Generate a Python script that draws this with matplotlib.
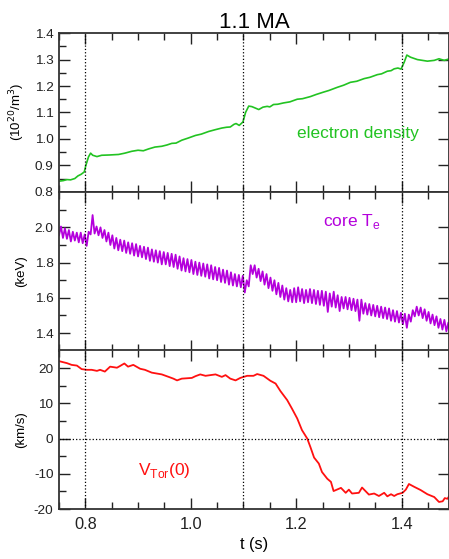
import numpy as np
import matplotlib
matplotlib.use('Agg')
import matplotlib.pyplot as plt
from matplotlib.ticker import MultipleLocator, FixedLocator, FormatStrFormatter

plt.rcParams['font.family'] = ['Liberation Sans', 'DejaVu Sans']
plt.rcParams['axes.unicode_minus'] = False

# electron density (1e20 m^-3)
ne_t = [0.750, 0.758, 0.765, 0.772, 0.780, 0.786, 0.792, 0.798, 0.801, 0.806,
        0.810, 0.814, 0.822, 0.831, 0.845, 0.863, 0.875, 0.888, 0.900, 0.910,
        0.920, 0.932, 0.945, 0.955, 0.964, 0.972, 0.983, 0.995, 1.009, 1.020,
        1.034, 1.047, 1.059, 1.068, 1.075, 1.082, 1.086, 1.092, 1.099, 1.104,
        1.110, 1.116, 1.122, 1.129, 1.137, 1.145, 1.150, 1.157, 1.165, 1.176,
        1.188, 1.202, 1.212, 1.227, 1.238, 1.252, 1.262, 1.278, 1.290, 1.303,
        1.315, 1.329, 1.340, 1.354, 1.362, 1.373, 1.380, 1.386, 1.393, 1.399,
        1.405, 1.410, 1.417, 1.430, 1.449, 1.462, 1.471, 1.481, 1.491]
ne = [0.840, 0.842, 0.846, 0.845, 0.850, 0.860, 0.866, 0.875, 0.900, 0.932,
      0.946, 0.938, 0.933, 0.938, 0.939, 0.941, 0.946, 0.953, 0.957, 0.955,
      0.962, 0.969, 0.972, 0.977, 0.983, 0.984, 0.995, 1.003, 1.013, 1.018,
      1.028, 1.035, 1.041, 1.044, 1.045, 1.055, 1.058, 1.051, 1.064, 1.100,
      1.124, 1.122, 1.117, 1.111, 1.120, 1.123, 1.121, 1.130, 1.131, 1.136,
      1.140, 1.150, 1.152, 1.160, 1.168, 1.177, 1.183, 1.195, 1.203, 1.214,
      1.218, 1.228, 1.233, 1.243, 1.246, 1.256, 1.258, 1.265, 1.268, 1.264,
      1.290, 1.317, 1.309, 1.300, 1.294, 1.297, 1.303, 1.297, 1.303]

# core Te (keV), sampled every 3.75 ms from 0.75 s, alternating trough / crest
te = [1.955, 2.005, 1.94, 1.995, 1.935, 1.985, 1.92, 1.975, 1.925, 1.97,
      1.915, 1.97, 1.91, 1.96, 1.895, 1.975, 1.96, 2.07, 1.965, 2.005,
      1.955, 2.00, 1.94, 1.985, 1.92, 1.97, 1.90, 1.955, 1.88, 1.94,
      1.87, 1.93, 1.865, 1.925, 1.855, 1.915, 1.85, 1.91, 1.84, 1.905,
      1.835, 1.895, 1.83, 1.89, 1.82, 1.885, 1.81, 1.875, 1.805, 1.87,
      1.80, 1.865, 1.79, 1.86, 1.79, 1.855, 1.78, 1.85, 1.775, 1.845,
      1.765, 1.835, 1.755, 1.825, 1.75, 1.82, 1.745, 1.815, 1.735, 1.805,
      1.73, 1.80, 1.725, 1.795, 1.72, 1.79, 1.71, 1.785, 1.705, 1.775,
      1.70, 1.77, 1.69, 1.76, 1.685, 1.755, 1.675, 1.745, 1.67, 1.735,
      1.665, 1.73, 1.66, 1.725, 1.63, 1.70, 1.665, 1.785, 1.735, 1.785,
      1.715, 1.765, 1.695, 1.75, 1.675, 1.735, 1.655, 1.715, 1.64, 1.70,
      1.62, 1.685, 1.605, 1.67, 1.59, 1.655, 1.58, 1.645, 1.575, 1.655,
      1.575, 1.66, 1.58, 1.65, 1.57, 1.645, 1.575, 1.65, 1.57, 1.645,
      1.565, 1.64, 1.56, 1.64, 1.555, 1.635, 1.52, 1.625, 1.55, 1.635,
      1.545, 1.615, 1.525, 1.605, 1.54, 1.605, 1.535, 1.60, 1.53, 1.595,
      1.525, 1.59, 1.47, 1.59, 1.51, 1.57, 1.505, 1.565, 1.50, 1.56,
      1.495, 1.555, 1.49, 1.55, 1.485, 1.545, 1.48, 1.54, 1.47, 1.53,
      1.465, 1.525, 1.46, 1.515, 1.45, 1.51, 1.43, 1.505, 1.465, 1.53,
      1.495, 1.55, 1.50, 1.545, 1.485, 1.535, 1.47, 1.52, 1.455, 1.505,
      1.445, 1.495, 1.43, 1.48, 1.42, 1.475, 1.41, 1.46, 1.405, 1.455]
te_t = 0.75 + 0.00375 * np.arange(len(te))

# central toroidal velocity (km/s)
v_t = [0.749, 0.765, 0.774, 0.784, 0.793, 0.803, 0.812, 0.822, 0.828, 0.837,
       0.847, 0.860, 0.866, 0.874, 0.881, 0.891, 0.904, 0.913, 0.926, 0.945,
       0.958, 0.967, 0.974, 0.983, 1.002, 1.009, 1.018, 1.028, 1.047, 1.059,
       1.066, 1.075, 1.085, 1.094, 1.107, 1.119, 1.126, 1.138, 1.151, 1.161,
       1.170, 1.183, 1.192, 1.202, 1.211, 1.221, 1.227, 1.234, 1.243, 1.249,
       1.259, 1.266, 1.271, 1.285, 1.294, 1.300, 1.306, 1.319, 1.325, 1.338,
       1.348, 1.357, 1.367, 1.373, 1.380, 1.386, 1.392, 1.402, 1.408, 1.414,
       1.424, 1.436, 1.449, 1.462, 1.471, 1.478, 1.482, 1.487, 1.491]
v = [22.0, 21.4, 20.9, 20.7, 19.7, 19.5, 19.5, 19.2, 19.5, 19.0,
     20.4, 20.1, 20.6, 21.3, 20.4, 20.9, 19.8, 19.5, 18.7, 18.2,
     17.5, 17.0, 16.5, 17.0, 17.2, 17.7, 18.2, 17.8, 18.2, 17.5,
     18.0, 17.0, 16.5, 17.2, 17.8, 17.8, 18.3, 17.8, 16.4, 15.6,
     13.5, 10.9, 8.5, 5.7, 2.4, 0.0, -2.4, -5.4, -7.1, -9.5,
     -11.4, -12.3, -14.9, -14.0, -15.4, -14.5, -15.6, -15.4, -13.9, -15.9,
     -15.6, -16.3, -15.4, -16.4, -15.8, -16.3, -15.8, -15.4, -14.5, -12.9,
     -13.7, -14.6, -15.8, -16.6, -18.0, -17.8, -16.9, -17.1, -16.2]

marks = [0.8, 1.1, 1.4]

green = '#22c322'
purple = '#b400dc'
red = '#ff1010'

fig = plt.figure(figsize=(4.49, 5.59), dpi=100)
W = 1 - 0.1314
H = 0.2837
ax1 = fig.add_axes([0.1314, 0.657, W, H])
ax2 = fig.add_axes([0.1314, 0.3726, W, H])
ax3 = fig.add_axes([0.1314, 0.0894, W, H])

ax1.plot(ne_t, ne, color=green, lw=1.2)
ax2.plot(te_t, te, color=purple, lw=1.3)
ax3.plot(v_t, v, color=red, lw=1.3)
ax3.axhline(0, color='k', ls=':', lw=0.9)

for ax in (ax1, ax2, ax3):
    ax.set_xlim(0.75, 1.49)
    for m in marks:
        ax.axvline(m, color='k', ls=':', lw=0.9)
    ax.xaxis.set_major_locator(MultipleLocator(0.2))
    ax.xaxis.set_minor_locator(MultipleLocator(0.05))
    ax.tick_params(which='both', direction='in', top=True, bottom=True, left=True, right=True,
                   colors='#222222', labelsize=9.7, pad=4)
    ax.tick_params(which='major', length=8, width=1)
    ax.tick_params(which='minor', length=5, width=1, right=False)
    for s in ax.spines.values():
        s.set_linewidth(1.3)
        s.set_color('#333333')
    ax.yaxis.set_label_coords(-0.082, 0.5)

ax1.set_ylim(0.8, 1.4)
ax1.yaxis.set_major_locator(MultipleLocator(0.1))
ax1.yaxis.set_minor_locator(MultipleLocator(0.05))
ax1.yaxis.set_major_formatter(FormatStrFormatter('%.1f'))
ax1.set_ylabel('(10$^{20}$/m$^3$)', fontsize=9.5)
ax1.tick_params(labelbottom=False)
ax1.set_title('1.1 MA', fontsize=16, pad=4)
ax1.text(1.2025, 1.0015, 'electron density', color=green, fontsize=12.5)

ax2.set_ylim(1.3, 2.2)
ax2.yaxis.set_major_locator(FixedLocator([1.4, 1.6, 1.8, 2.0]))
ax2.yaxis.set_minor_locator(FixedLocator([1.5, 1.7, 1.9, 2.1]))
ax2.yaxis.set_major_formatter(FormatStrFormatter('%.1f'))
ax2.set_ylabel('(keV)', fontsize=9.5)
ax2.tick_params(labelbottom=False)
ax2.text(1.25, 2.005, 'core T$_{\\mathregular{e}}$', color=purple, fontsize=12.5)

ax3.set_ylim(-20, 25)
ax3.yaxis.set_major_locator(FixedLocator([-20, -10, 0, 10, 20]))
ax3.yaxis.set_minor_locator(FixedLocator([-15, -5, 5, 15]))
ax3.set_ylabel('(km/s)', fontsize=9.5)
ax3.tick_params(axis='x', labelsize=11.8, pad=6)
ax3.set_xlabel('t (s)', fontsize=11.8, labelpad=3)
ax3.text(0.9008, -10.4, 'V$_{\\mathregular{Tor}}$(0)', color=red, fontsize=12.5)

fig.savefig('out.png', dpi=100)
